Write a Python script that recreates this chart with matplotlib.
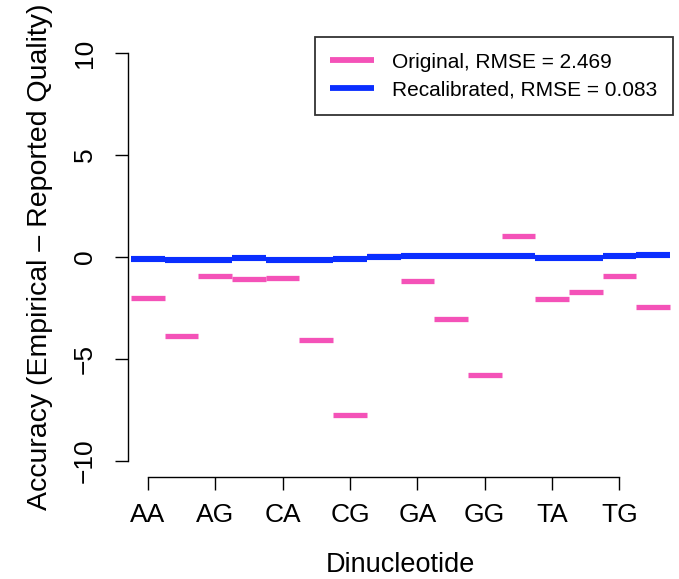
import numpy as np
import matplotlib
matplotlib.use("Agg")
import matplotlib.pyplot as plt

## Data
dinucs = ["AA", "AC", "AG", "AT", "CA", "CC", "CG", "CT",
          "GA", "GC", "GG", "GT", "TA", "TC", "TG", "TT"]
original = [-2.03, -3.90, -0.95, -1.10, -1.05, -4.09, -7.77, 0.06,
            -1.19, -3.06, -5.81, 1.01, -2.06, -1.73, -0.95, -2.47]
recal = [-0.08, -0.14, -0.14, -0.07, -0.13, -0.13, -0.10, -0.02,
         0.03, 0.07, 0.07, 0.07, -0.07, -0.07, 0.03, 0.08]
tick_labels = dinucs[::2]
legend_labels = ["Original, RMSE = 2.469", "Recalibrated, RMSE = 0.083"]

pink = "#F452B8"
blue = "#0A2EFF"

plt.rcParams["font.family"] = ["Liberation Sans", "DejaVu Sans"]

fig = plt.figure(figsize=(6.79, 5.79), dpi=100)
# plot region in pixels: x 128..673, y 37..477
ax = fig.add_axes([128 / 679, 102 / 579, 545 / 679, 440 / 579])

x = np.arange(1, len(dinucs) + 1)
# one flat segment per dinucleotide, one unit wide
ax.hlines(original, x - 0.5, x + 0.5, colors=pink, linewidth=3.8,
          label=legend_labels[0])
ax.hlines(recal, x - 0.5, x + 0.5, colors=blue, linewidth=4.4,
          label=legend_labels[1])

ax.set_xlim(0.41, 16.59)
ax.set_ylim(-10.8, 10.8)

# R style axes: detached, only spanning the ticks
for s in ["top", "right"]:
    ax.spines[s].set_visible(False)
ax.spines["left"].set_bounds(-10, 10)
ax.spines["bottom"].set_bounds(1, 15)
ax.spines["left"].set_linewidth(1.0)
ax.spines["bottom"].set_linewidth(1.0)

ax.set_yticks([-10, -5, 0, 5, 10])
ax.set_xticks(x[::2])
ax.set_xticklabels(tick_labels)
ax.tick_params(axis="both", length=9.4, width=1.0, labelsize=19)
ax.tick_params(axis="y", pad=13)
ax.tick_params(axis="x", pad=9)
for t in ax.get_yticklabels():
    t.set_rotation(90)
    t.set_va("center")

ax.set_xlabel("Dinucleotide", fontsize=19.5, labelpad=18)
ax.set_ylabel("Accuracy (Empirical \u2013 Reported Quality)", fontsize=20.5, labelpad=14)

leg = ax.legend(loc="upper right", bbox_to_anchor=(1.0, 1.0), borderaxespad=0,
                fontsize=15, fancybox=False, edgecolor="black",
                handlelength=2.1, handletextpad=0.87, borderpad=0.75,
                labelspacing=0.42)
leg.get_frame().set_linewidth(1.3)
for line in leg.get_lines():
    line.set_linewidth(4.2)
    line.set_solid_capstyle("round")

fig.savefig("out.png", dpi=100)
